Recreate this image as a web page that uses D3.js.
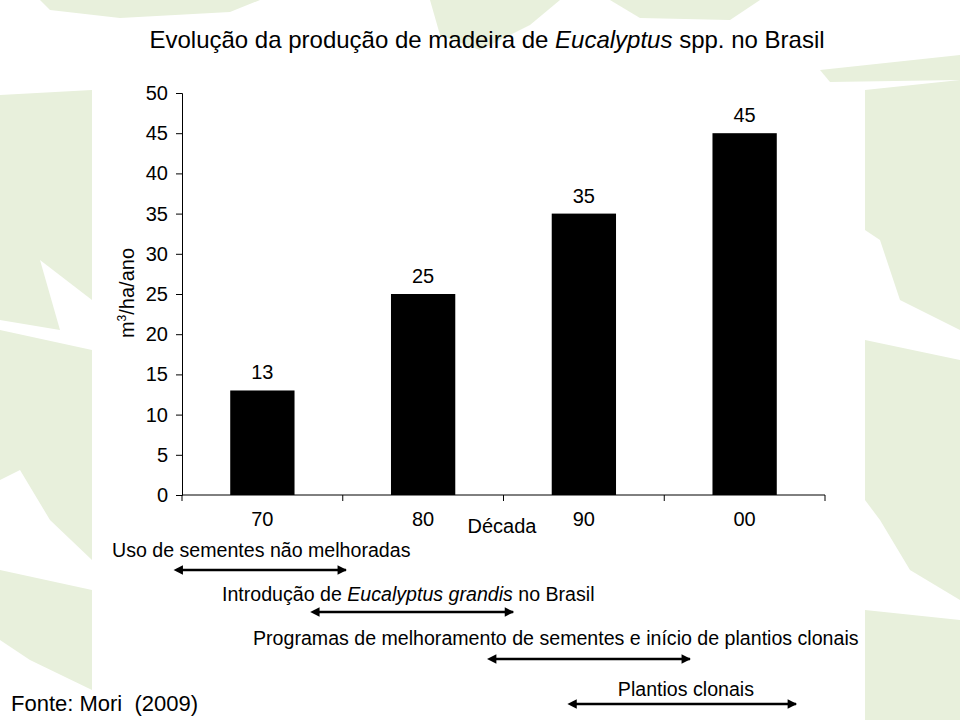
<!DOCTYPE html>
<html><head><meta charset="utf-8">
<script src="https://cdn.jsdelivr.net/npm/d3@7/dist/d3.min.js"></script>
<style>body{margin:0;background:#fff}svg{display:block;font-family:Arial,"Liberation Sans",sans-serif}</style>
</head><body>
<script>
const categories = ["70","80","90","00"];
const values = [13,25,35,45];
const yTicks = [0,5,10,15,20,25,30,35,40,45,50];
const periods = ["Uso de sementes não melhoradas","Introdução de Eucalyptus grandis no Brasil","Programas de melhoramento de sementes e início de plantios clonais","Plantios clonais"];
const periodStart = [1965,1973.5,1984.5,1989.5];
const periodEnd = [1975.2,1985.6,1996.6,2003.2];

const W=960,H=720;
const svg=d3.select("body").append("svg").attr("width",W).attr("height",H);

// background leaf texture (decorative)
const bg=svg.append("g").attr("fill","#e8f0dc");
const leaves=[
 "M0,95 L92,90 L92,300 L40,260 L60,330 L0,320 Z",
 "M0,330 L92,350 L92,560 L50,520 L20,470 L0,480 Z",
 "M0,570 L92,590 L92,690 L30,660 L0,640 Z",
 "M865,90 L960,80 L960,330 L900,300 L880,240 L865,230 Z",
 "M865,340 L960,360 L960,600 L910,570 L880,520 L865,500 Z",
 "M865,610 L960,620 L960,720 L865,720 Z",
 "M40,0 L260,0 L230,12 L120,18 L50,10 Z",
 "M430,0 L560,0 L530,25 L480,50 L440,35 Z",
 "M610,0 L760,0 L730,20 L640,18 Z",
 "M820,70 L960,55 L960,80 L830,82 Z"];
bg.selectAll("path").data(leaves).join("path").attr("d",d=>d);
svg.append("rect").attr("x",92).attr("y",82).attr("width",773).attr("height",H-82).attr("fill","#fff");

const x=d3.scaleBand().domain(categories).range([182,825]).paddingInner(0.6).paddingOuter(0.3);
const y=d3.scaleLinear().domain([0,50]).range([495,93]);
const t=d3.scaleLinear().domain([1965,2005]).range([182,825]);

// title
const title=svg.append("text").attr("x",487).attr("y",48).attr("text-anchor","middle").attr("font-size",24);
title.append("tspan").text("Evolução da produção de madeira de ");
title.append("tspan").attr("font-style","italic").text("Eucalyptus");
title.append("tspan").text(" spp. no Brasil");

// y axis
const ya=svg.append("g").attr("transform","translate(182,0)").call(d3.axisLeft(y).tickValues(yTicks).tickSize(6).tickPadding(8));
ya.selectAll("text").attr("font-size",20).attr("fill","#000").attr("font-family","Arial, Liberation Sans, sans-serif");
ya.selectAll("line,path").attr("stroke","#000");

// x axis: ticks at category boundaries
const xa=svg.append("g").attr("transform","translate(0,495)");
xa.append("line").attr("x1",182).attr("x2",825).attr("stroke","#000");
const bounds=[0,1,2,3,4].map(i=>182+i*x.step());
xa.selectAll("line.tk").data(bounds).join("line").attr("class","tk").attr("x1",d=>d).attr("x2",d=>d).attr("y1",0).attr("y2",6).attr("stroke","#000");
xa.selectAll("text").data(categories).join("text").attr("x",d=>x(d)+x.bandwidth()/2).attr("y",31).attr("text-anchor","middle").attr("font-size",20).text(d=>d);

svg.append("text").attr("x",502).attr("y",533).attr("text-anchor","middle").attr("font-size",20).text("Década");
svg.append("text").attr("transform","translate(134,293) rotate(-90)").attr("text-anchor","middle").attr("font-size",20)
  .html('m<tspan font-size="12" dy="-8">3</tspan><tspan dy="8">/ha/ano</tspan>');

// bars
svg.selectAll("rect.bar").data(values).join("rect").attr("class","bar")
 .attr("x",(d,i)=>x(categories[i])).attr("width",x.bandwidth())
 .attr("y",d=>y(d)).attr("height",d=>y(0)-y(d)).attr("fill","#000");
svg.selectAll("text.val").data(values).join("text").attr("class","val")
 .attr("x",(d,i)=>x(categories[i])+x.bandwidth()/2).attr("y",d=>y(d)-11)
 .attr("text-anchor","middle").attr("font-size",20).text(d=>d);

// arrow markers
const defs=svg.append("defs");
["s","e"].forEach(k=>{
 defs.append("marker").attr("id","m"+k).attr("viewBox","0 0 10 10").attr("refX",k==="e"?9:1).attr("refY",5)
  .attr("markerWidth",4.4).attr("markerHeight",3.6).attr("orient","auto-start-reverse").attr("markerUnits","strokeWidth")
  .append("path").attr("d","M0,0 L10,5 L0,10 Z").attr("fill","#000");
});

// period annotations
const labelX=[112,222,253,null];
const labelY=[557,601,645,696];
const arrowY=[570,612,659,704];
periods.forEach((p,i)=>{
 const tx=svg.append("text").attr("y",labelY[i]).attr("font-size",19.6);
 if(labelX[i]===null){tx.attr("x",(t(periodStart[i])+t(periodEnd[i]))/2).attr("text-anchor","middle");}
 else tx.attr("x",labelX[i]);
 if(i===1){
  tx.append("tspan").text("Introdução de ");
  tx.append("tspan").attr("font-style","italic").text("Eucalyptus grandis");
  tx.append("tspan").text(" no Brasil");
 } else tx.text(p);
 svg.append("line").attr("x1",t(periodStart[i])).attr("x2",t(periodEnd[i])).attr("y1",arrowY[i]).attr("y2",arrowY[i])
  .attr("stroke","#000").attr("stroke-width",2.6).attr("marker-start","url(#ms)").attr("marker-end","url(#me)");
});

svg.append("text").attr("x",11).attr("y",711).attr("font-size",22).text("Fonte: Mori\u00a0\u00a0(2009)");
</script>
</body></html>
